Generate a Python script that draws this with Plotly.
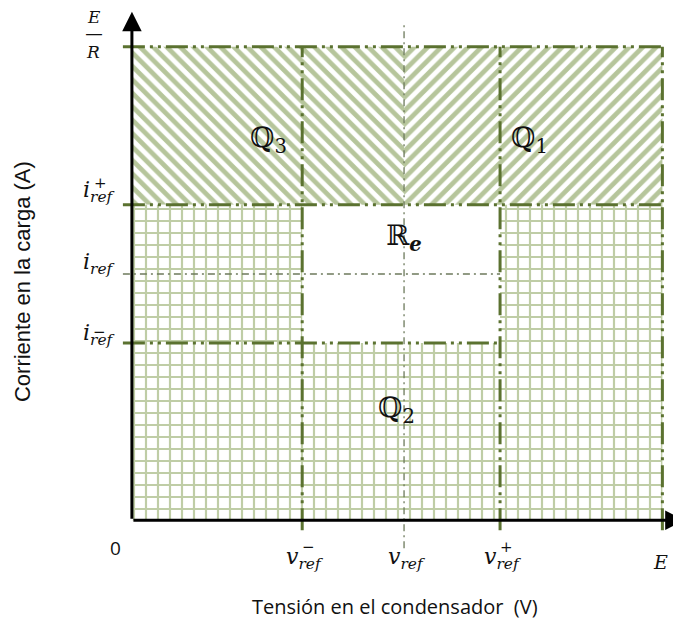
import plotly.graph_objects as go

# ---------------- data (arbitrary units: E = 10, E/R = 10) ----------------
x_names = ["0", "v-", "v", "v+", "E"]
x_vals = [0.0, 3.21, 5.13, 6.94, 10.0]          # 0, v_ref-, v_ref, v_ref+, E
y_names = ["0", "i-", "i", "i+", "E/R"]
y_vals = [0.0, 3.74, 5.20, 6.66, 10.0]          # 0, i_ref-, i_ref, i_ref+, E/R
region_texts = ["ℚ<sub>3</sub>", "ℚ<sub>1</sub>", "ℝ<sub><b><i>e</i></b></sub>", "ℚ<sub>2</sub>"]
region_x = [2.57, 7.50, 5.13, 4.98]
region_y = [8.03, 8.03, 5.96, 2.33]

x0, vmin, vref, vmax, E = x_vals
y0, imin, iref, imax, ER = y_vals

HATCH = "#6d8c37"
GRID = "#7f9b4e"
EDGE = "#5b7230"
THIN = "#6d7a5c"
TXT = "#111111"
SERIF = "DejaVu Serif"

fig = go.Figure()

# hatched Q3 (left of v_ref) and Q1 (right of v_ref)
fig.add_trace(go.Scatter(
    x=[x0, vref, vref, x0, x0], y=[imax, imax, ER, ER, imax],
    mode="lines", fill="toself", line=dict(width=0, color=HATCH),
    fillcolor="white",
    fillpattern=dict(shape="\\", size=9.5, solidity=0.5, fgcolor=HATCH, bgcolor="white"),
    hoverinfo="skip", showlegend=False))
fig.add_trace(go.Scatter(
    x=[vref, E, E, vref, vref], y=[imax, imax, ER, ER, imax],
    mode="lines", fill="toself", line=dict(width=0, color=HATCH),
    fillcolor="white",
    fillpattern=dict(shape="/", size=9.5, solidity=0.5, fgcolor=HATCH, bgcolor="white"),
    hoverinfo="skip", showlegend=False))
# grid region Q2 (everything below i_ref+ except R_e)
fig.add_trace(go.Scatter(
    x=[x0, E, E, vmax, vmax, vmin, vmin, x0, x0],
    y=[y0, y0, imax, imax, imin, imin, imax, imax, y0],
    mode="lines", fill="toself", line=dict(width=0, color=GRID),
    fillcolor="white",
    fillpattern=dict(shape="+", size=12, solidity=0.33, fgcolor=GRID, bgcolor="white"),
    hoverinfo="skip", showlegend=False))

DASH = "22px,5px,3px,5px,3px,5px"
tick_ext_x = -0.17
tick_ext_y = -0.21


def seg(xs, ys, color, width, dash):
    fig.add_trace(go.Scatter(x=xs, y=ys, mode="lines",
                             line=dict(color=color, width=width, dash=dash),
                             hoverinfo="skip", showlegend=False))


# thin reference lines
seg([vref, vref], [-0.59, 10.47], THIN, 1.3, "7px,4px,2px,4px")
seg([tick_ext_x, vmax], [iref, iref], THIN, 1.3, "7px,4px,2px,4px")
# boundaries
seg([tick_ext_x, E], [ER, ER], EDGE, 3, DASH)
seg([tick_ext_x, E], [imax, imax], EDGE, 3, DASH)
seg([tick_ext_x, vmax], [imin, imin], EDGE, 3, DASH)
for xv in (vmin, vmax, E):
    seg([xv, xv], [tick_ext_y, ER], EDGE, 3, DASH)

annotations = []
# axes with arrows
annotations.append(dict(x=10.42, y=0, ax=0, ay=0, xref="x", yref="y", axref="x", ayref="y",
                        text="", showarrow=True, arrowhead=2, arrowsize=1.3, arrowwidth=3,
                        arrowcolor="black"))
annotations.append(dict(x=0, y=10.74, ax=0, ay=0, xref="x", yref="y", axref="x", ayref="y",
                        text="", showarrow=True, arrowhead=2, arrowsize=1.3, arrowwidth=3,
                        arrowcolor="black"))

# x tick labels
annotations.append(dict(x=x0, y=0, xref="x", yref="y", text="0", showarrow=False,
                        font=dict(family="Open Sans", size=19, color=TXT),
                        xshift=-16, yshift=-28))
for xv, nm in zip(x_vals[1:4], x_names[1:4]):
    annotations.append(dict(x=xv, y=0, xref="x", yref="y",
                            text="<i>v</i><sub><i>ref</i></sub>", showarrow=False,
                            xanchor="left", yanchor="middle", xshift=-18, yshift=-38,
                            font=dict(family=SERIF, size=22, color=TXT)))
    if nm != "v":
        annotations.append(dict(x=xv, y=0, xref="x", yref="y",
                                text="−" if nm == "v-" else "+", showarrow=False,
                                xshift=6, yshift=-27,
                                font=dict(family=SERIF, size=15, color=TXT)))
annotations.append(dict(x=E, y=0, xref="x", yref="y", text="<i>E</i>", showarrow=False,
                        xshift=-2, yshift=-42, font=dict(family=SERIF, size=19, color=TXT)))

# y tick labels
label_shift = {"i-": 9, "i": 10, "i+": 13}
sign_shift = {"i-": 11, "i+": 22}
sign_xshift = {"i-": -32, "i+": -31}
for yv, nm in zip(y_vals[1:4], y_names[1:4]):
    annotations.append(dict(x=0, y=yv, xref="x", yref="y",
                            text="<i>i</i><sub><i>ref</i></sub>", showarrow=False,
                            xanchor="right", yanchor="middle", xshift=-15,
                            yshift=label_shift[nm],
                            font=dict(family=SERIF, size=22, color=TXT)))
    if nm != "i":
        annotations.append(dict(x=0, y=yv, xref="x", yref="y",
                                text="+" if nm == "i+" else "−", showarrow=False,
                                xshift=sign_xshift[nm], yshift=sign_shift[nm],
                                font=dict(family=SERIF, size=15, color=TXT)))
annotations.append(dict(x=0, y=ER, xref="x", yref="y", text="<i>E</i>", showarrow=False,
                        xshift=-38, yshift=30, font=dict(family=SERIF, size=17, color=TXT)))
annotations.append(dict(x=0, y=ER, xref="x", yref="y", text="<i>R</i>", showarrow=False,
                        xshift=-39, yshift=-5, font=dict(family=SERIF, size=17, color=TXT)))
annotations.append(dict(x=0, y=ER, xref="x", yref="y", text="―", showarrow=False,
                        xshift=-38, yshift=13, font=dict(family=SERIF, size=16, color=TXT)))

# region labels
for t, lx, ly in zip(region_texts, region_x, region_y):
    annotations.append(dict(x=lx, y=ly, xref="x", yref="y", text=t, showarrow=False,
                            font=dict(family=SERIF, size=28, color=TXT)))

# axis titles
annotations.append(dict(x=-0.169, y=0.511, xref="paper", yref="paper",
                        xanchor="center", yanchor="middle",
                        text="Corriente en la carga (A)", textangle=-90, showarrow=False,
                        font=dict(family="Liberation Sans", size=22, color=TXT)))
annotations.append(dict(x=0.501, y=-0.105, xref="paper", yref="paper",
                        xanchor="center", yanchor="middle",
                        text="Tensión en el condensador  (V)", showarrow=False,
                        font=dict(family="Open Sans", size=20, color=TXT)))

fig.update_layout(
    width=681, height=624,
    margin=dict(l=108.1, r=16.4, t=15.35, b=81.25),
    paper_bgcolor="white", plot_bgcolor="white",
    xaxis=dict(range=[-0.3, 10.2], visible=False, fixedrange=True),
    yaxis=dict(range=[-0.65, 10.5], visible=False, fixedrange=True),
    annotations=annotations,
    showlegend=False,
)

fig.write_html("out.html")
